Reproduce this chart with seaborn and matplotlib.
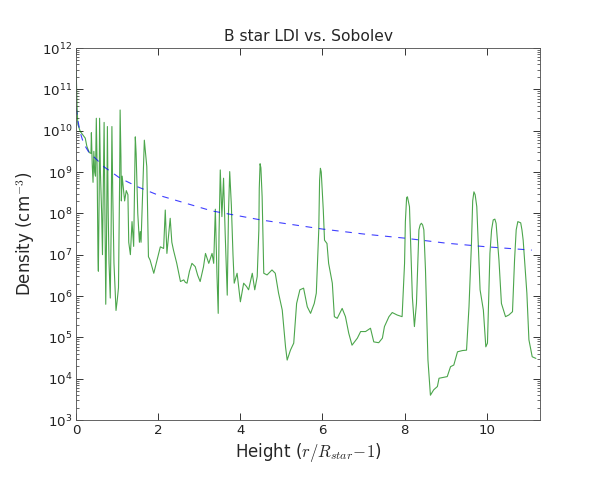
import numpy as np
import pandas as pd
import seaborn as sns
import matplotlib
matplotlib.use('Agg')
import matplotlib.pyplot as plt
from matplotlib.ticker import FixedLocator, LogFormatterMathtext, NullFormatter

# LDI density profile (height, log10 density)
ldi_height = [0.00, 0.02, 0.04, 0.10, 0.16, 0.22, 0.26, 0.32, 0.36, 0.37, 0.39, 0.41, 0.43, 0.45,
              0.47, 0.49, 0.51, 0.53, 0.54, 0.56, 0.57, 0.59, 0.62, 0.64, 0.66, 0.68, 0.70, 0.72,
              0.74, 0.76, 0.78, 0.80, 0.83, 0.85, 0.87, 0.89, 0.92, 0.97, 1.00, 1.03, 1.06, 1.07,
              1.09, 1.10, 1.12, 1.18, 1.22, 1.26, 1.28, 1.32, 1.36, 1.40, 1.44, 1.46, 1.50, 1.54,
              1.56, 1.58, 1.62, 1.66, 1.72, 1.76, 1.80, 1.89, 1.97, 2.05, 2.13, 2.17, 2.21, 2.29,
              2.33, 2.37, 2.45, 2.54, 2.62, 2.66, 2.70, 2.76, 2.82, 2.90, 2.96, 3.02, 3.10, 3.15,
              3.23, 3.31, 3.35, 3.39, 3.43, 3.46, 3.48, 3.51, 3.55, 3.59, 3.63, 3.68, 3.71, 3.74,
              3.78, 3.82, 3.85, 3.92, 4.00, 4.08, 4.15, 4.20, 4.29, 4.35, 4.41, 4.45, 4.46, 4.48,
              4.50, 4.53, 4.57, 4.65, 4.77, 4.85, 4.93, 5.02, 5.10, 5.14, 5.22, 5.30, 5.37, 5.45,
              5.54, 5.63, 5.71, 5.80, 5.85, 5.91, 5.93, 5.95, 5.97, 6.02, 6.05, 6.11, 6.15, 6.24,
              6.29, 6.36, 6.48, 6.56, 6.64, 6.72, 6.85, 6.93, 7.05, 7.17, 7.25, 7.37, 7.46, 7.51,
              7.62, 7.70, 7.82, 7.94, 8.00, 8.02, 8.05, 8.07, 8.12, 8.19, 8.24, 8.29, 8.35, 8.38,
              8.41, 8.44, 8.47, 8.51, 8.57, 8.63, 8.71, 8.80, 8.84, 9.04, 9.12, 9.20, 9.29, 9.41,
              9.51, 9.57, 9.63, 9.66, 9.69, 9.72, 9.76, 9.84, 9.92, 9.98, 10.02, 10.08, 10.12,
              10.16, 10.20, 10.23, 10.30, 10.36, 10.46, 10.54, 10.63, 10.68, 10.72, 10.76, 10.83,
              10.86, 10.89, 10.98, 11.03, 11.11, 11.20]
ldi_logdens = [11.45, 10.6, 10.15, 9.98, 9.9, 9.82, 9.62, 9.47, 9.45, 9.95, 9.2, 8.75, 9.5, 9.0,
               8.9, 10.3, 9.1, 7.0, 6.6, 8.5, 10.3, 9.0, 8.0, 7.0, 8.5, 10.2, 8.0, 5.8,
               7.5, 10.1, 8.0, 6.8, 5.95, 7.5, 10.1, 8.5, 6.8, 5.65, 5.9, 6.2, 9.0, 10.5,
               9.35, 8.3, 8.9, 8.3, 8.55, 8.45, 7.3, 7.0, 7.8, 7.2, 9.85, 9.45, 8.0, 7.3,
               7.56, 7.3, 8.5, 9.77, 9.13, 6.95, 6.87, 6.55, 6.87, 7.19, 7.15, 8.08, 7.03, 7.88,
               7.3, 7.11, 6.79, 6.35, 6.39, 6.33, 6.31, 6.6, 6.79, 6.71, 6.5, 6.35, 6.7, 7.03,
               6.79, 7.03, 6.79, 8.10, 6.5, 5.58, 7.5, 9.05, 7.92, 8.85, 7.5, 6.02, 8.0, 9.01,
               8.2, 7.0, 6.31, 6.55, 5.86, 6.31, 6.23, 6.15, 6.55, 6.15, 6.47, 7.6, 8.6, 9.2,
               9.1, 8.40, 6.55, 6.51, 6.63, 6.55, 6.07, 5.66, 4.77, 4.45, 4.69, 4.86, 5.82, 6.15,
               6.19, 5.74, 5.58, 5.82, 6.07, 7.6, 8.8, 9.09, 9.0, 8.08, 7.35, 7.27, 6.79, 6.31,
               5.50, 5.46, 5.70, 5.50, 5.10, 4.81, 4.98, 5.14, 5.14, 5.22, 4.89, 4.87, 4.98, 5.26,
               5.50, 5.60, 5.54, 5.50, 6.79, 7.8, 8.38, 8.40, 8.16, 5.98, 5.26, 5.82, 7.60, 7.72,
               7.76, 7.72, 7.60, 6.63, 4.45, 3.60, 3.73, 3.81, 4.01, 4.05, 4.29, 4.33, 4.65, 4.68,
               4.69, 5.74, 7.27, 8.3, 8.52, 8.45, 8.16, 6.15, 5.66, 4.77, 4.86, 7.03, 7.6,
               7.84, 7.86, 7.76, 6.87, 5.82, 5.50, 5.54, 5.62, 6.87, 7.6, 7.80, 7.77,
               7.6, 7.35, 6.07, 4.94, 4.53, 4.49]

# Sobolev density profile
sob_height = [0.0, 0.05, 0.1, 0.18, 0.3, 0.5, 0.67, 1.07, 1.5, 2.0, 3.3, 4.5, 6.0, 7.0, 8.0, 9.0, 10.0, 11.1]
sob_logdens = [10.55, 10.2, 9.95, 9.69, 9.49, 9.3, 9.13, 8.85, 8.64, 8.44, 8.06, 7.84, 7.62, 7.5, 7.40, 7.28, 7.19, 7.11]

# y decades shown on the axis
decades = list(range(3, 13))

df_ldi = pd.DataFrame({'height': ldi_height, 'density': np.power(10.0, ldi_logdens)})
df_sob = pd.DataFrame({'height': sob_height, 'density': np.power(10.0, sob_logdens)})

sns.set_style('ticks')
plt.rcParams['font.family'] = ['DejaVu Sans']
plt.rcParams['mathtext.fontset'] = 'cm'

fig, ax = plt.subplots(figsize=(7.5, 6), dpi=80)
fig.subplots_adjust(left=0.127, right=0.9, top=0.9, bottom=0.125)

sns.lineplot(data=df_ldi, x='height', y='density', estimator=None, sort=False,
             color='green', alpha=0.7, lw=1.0, ax=ax)
sns.lineplot(data=df_sob, x='height', y='density', estimator=None, sort=False,
             color='blue', alpha=0.75, lw=1.0, ax=ax)
ax.lines[-1].set_linestyle((0, (6, 6)))

ax.set_yscale('log')
ax.set_xlim(0, 11.3)
ax.set_ylim(1e3, 1e12)
ax.yaxis.set_major_locator(FixedLocator([10.0 ** d for d in decades]))
ax.yaxis.set_minor_locator(FixedLocator([m * 10.0 ** d for d in decades[:-1] for m in range(2, 10)]))
ax.yaxis.set_major_formatter(LogFormatterMathtext())
ax.yaxis.set_minor_formatter(NullFormatter())
ax.set_xticks([0, 2, 4, 6, 8, 10])

ax.tick_params(which='both', direction='in', top=True, right=True, labelsize=12, colors='#222222')
ax.tick_params(which='major', length=6)
ax.tick_params(which='minor', length=3)
for s in ax.spines.values():
    s.set_color('#555555')

ax.set_title('B star LDI vs. Sobolev', fontsize=14)
ax.set_xlabel(r'Height ($r/R_{star}\!-\!1$)', fontsize=15)
ax.set_ylabel(r'Density (cm$^{-3}$)', fontsize=15)

fig.savefig('out.png', dpi=80)
